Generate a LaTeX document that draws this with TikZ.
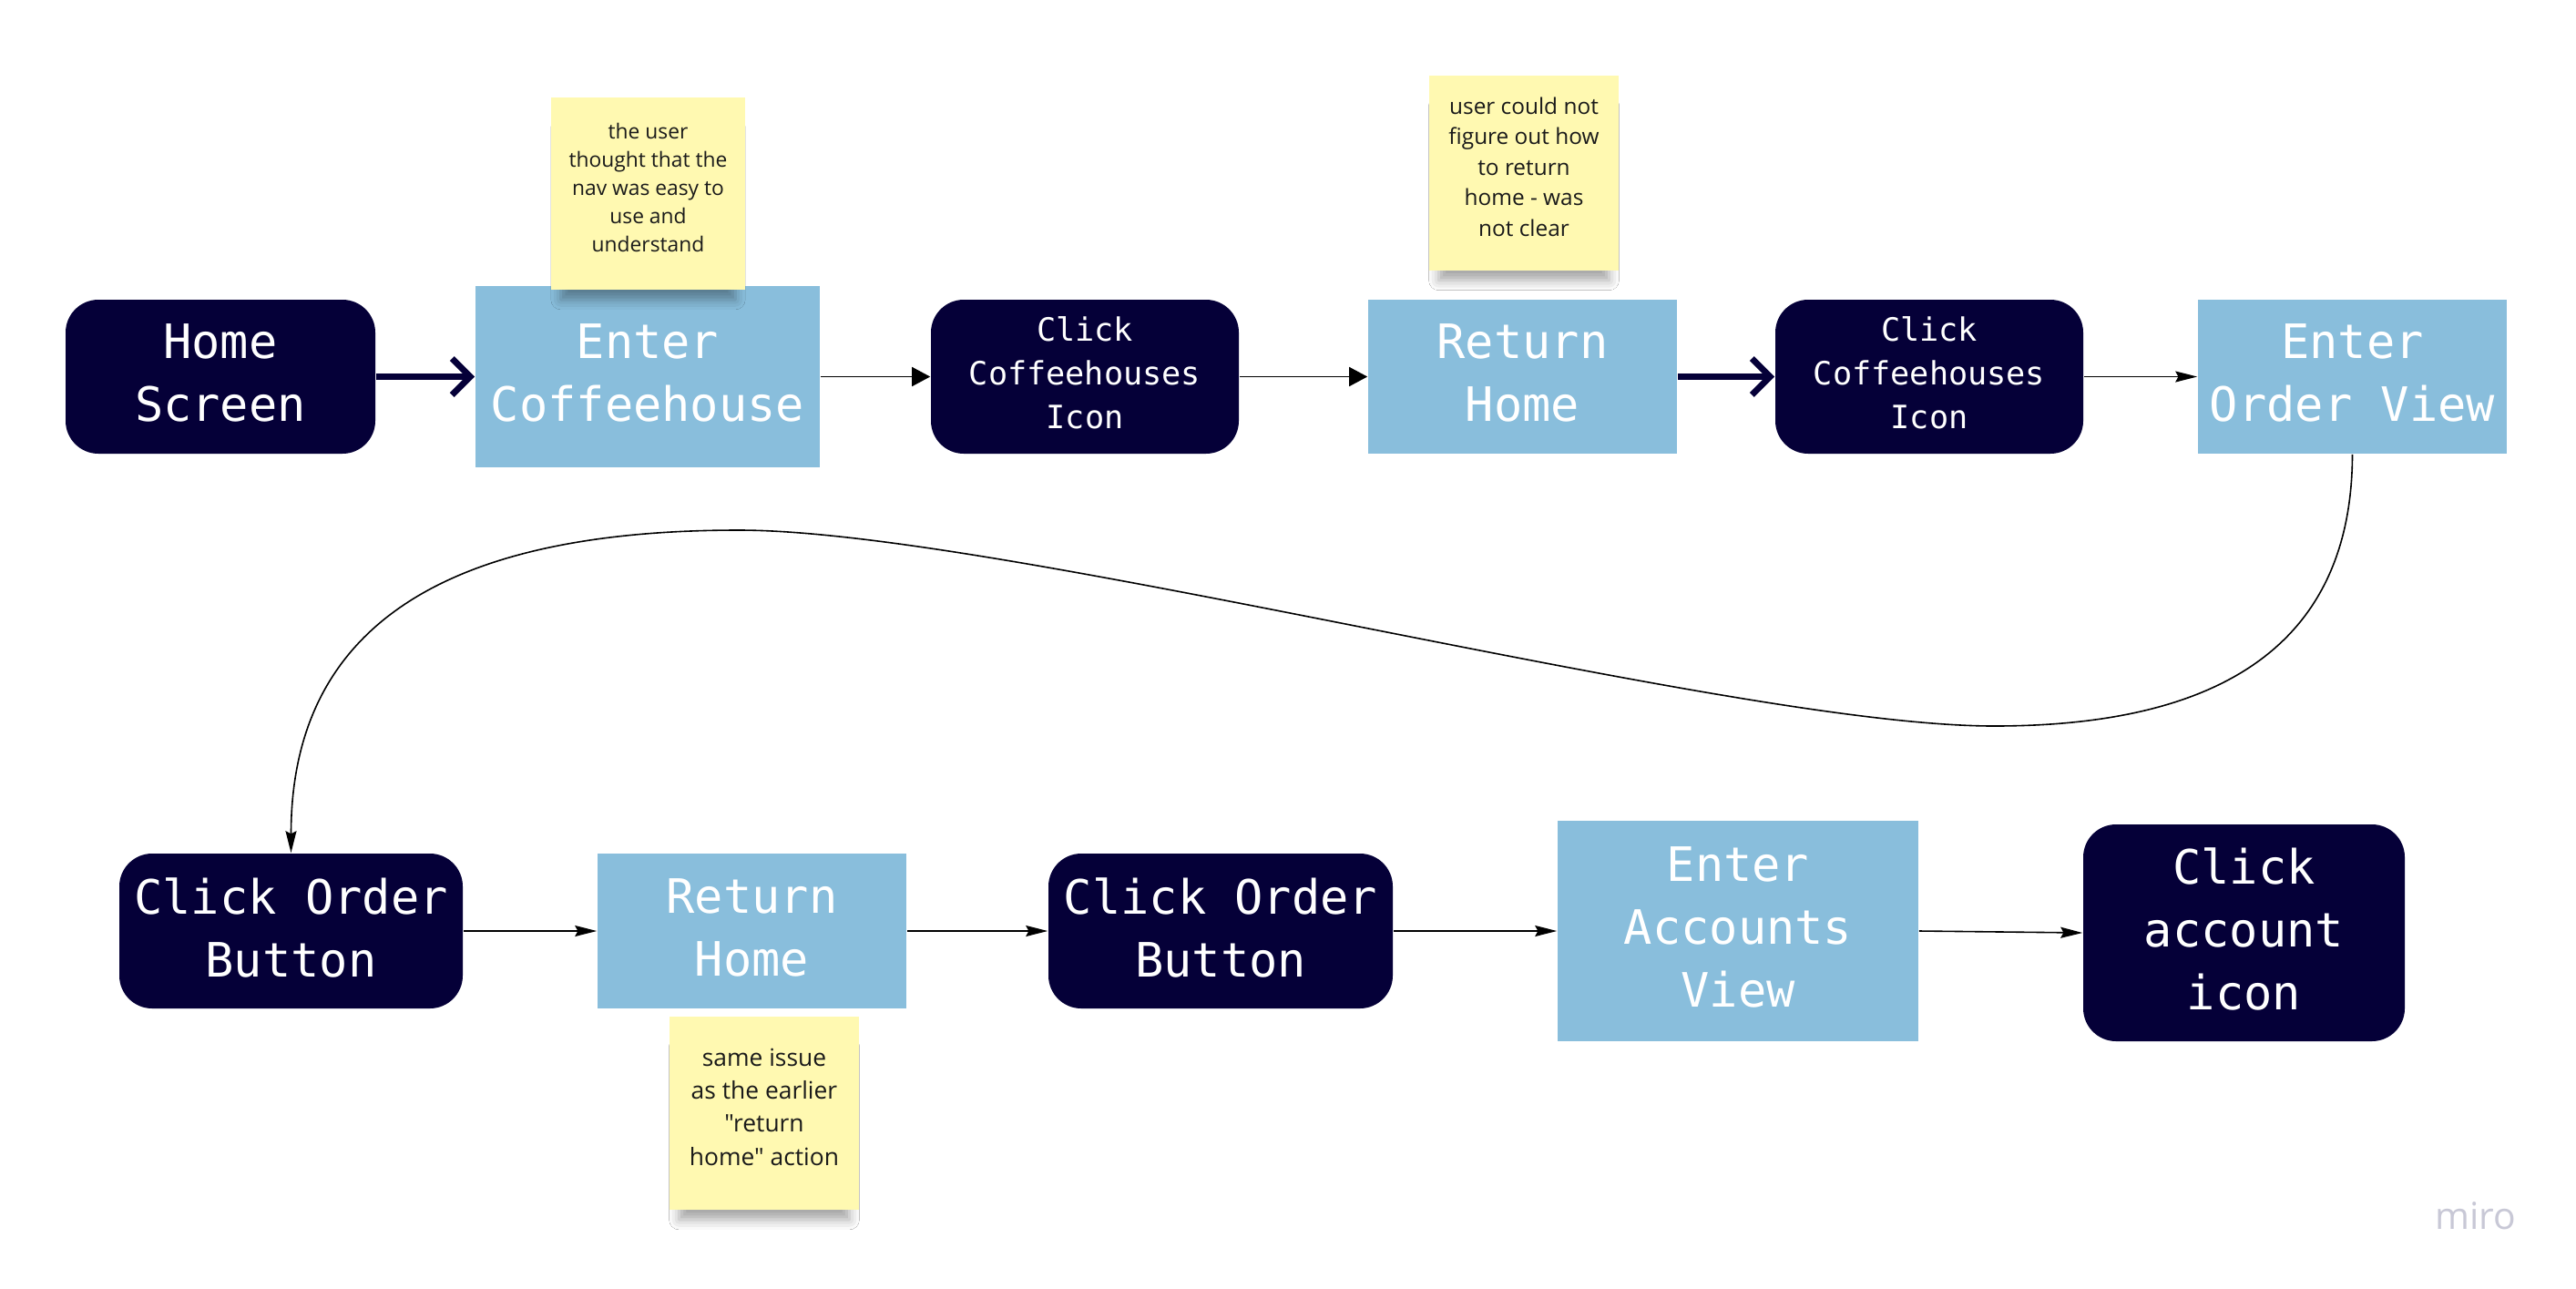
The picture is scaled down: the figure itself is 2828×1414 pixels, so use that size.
\documentclass[tikz,border=0pt]{standalone}
\usepackage{fontspec}
\newfontfamily\monofont{DejaVu Sans Mono}
\newfontfamily\notefont{Open Sans}
\usetikzlibrary{arrows.meta, shadows.blur}

\definecolor{navy}{HTML}{050038}
\definecolor{viewblue}{RGB}{137,190,220}
\definecolor{stickyyellow}{HTML}{FFF9B1}
\definecolor{notetext}{HTML}{1A1A1A}
\definecolor{logogray}{RGB}{200,200,214}

\tikzset{
	screen/.style={fill=navy, text=white, rounded corners=9pt, inner sep=0pt, align=center,
		text depth=2.2pt, font=\monofont\fontsize{13}{17.25}\selectfont},
	small screen/.style={screen, font=\monofont\fontsize{8.8}{12}\selectfont},
	view/.style={fill=viewblue, text=white, inner sep=0pt, align=center,
		text depth=2.2pt, font=\monofont\fontsize{13}{17.25}\selectfont},
	sticky/.style={fill=stickyyellow, text=notetext, inner sep=0pt, align=center, text depth=3.5pt,
		blur shadow={shadow xshift=0pt, shadow yshift=-6pt, shadow scale=0.9,
			shadow opacity=35, shadow blur radius=3pt}},
	link/.style={draw=black, line width=0.4pt, -{Stealth[length=6pt, width=3pt, inset=0.8pt]}},
	wide link/.style={draw=black, line width=0.4pt, -{Triangle[length=5pt, width=5.25pt]}},
	bold link/.style={draw=navy, line width=1.75pt, -{Straight Barb[length=5pt, width=10pt]}}
}

\begin{document}
\begin{tikzpicture}[x=0.25pt, y=-0.25pt]
	\fill[white] (0,0) rectangle (2828,1414);
	\useasboundingbox (0,0) rectangle (2828,1414);

	% first row
	\node[screen, minimum width=85pt, minimum height=42.25pt] (home) at (242,413.5) {Home\\Screen};
	\node[view, minimum width=94.5pt, minimum height=49.75pt] (coffee) at (711,413.5) {Enter\\Coffeehouse};
	\node[small screen, minimum width=84.5pt, minimum height=42.25pt] (icon1) at (1191,413.5) {Click\\Coffeehouses\\Icon};
	\node[view, minimum width=84.75pt, minimum height=42.25pt] (return1) at (1671.5,413.5) {Return\\Home};
	\node[small screen, minimum width=84.5pt, minimum height=42.25pt] (icon2) at (2118,413.5) {Click\\Coffeehouses\\Icon};
	\node[view, minimum width=84.75pt, minimum height=42.25pt] (order) at (2582.5,413.5) {Enter\\Order View};

	% second row
	\node[screen, minimum width=94.25pt, minimum height=42.5pt] (button1) at (319.5,1022) {Click Order\\Button};
	\node[view, minimum width=84.75pt, minimum height=42.5pt] (return2) at (825.5,1022) {Return\\Home};
	\node[screen, minimum width=94.5pt, minimum height=42.5pt] (button2) at (1340,1022) {Click Order\\Button};
	\node[view, minimum width=99pt, minimum height=60.5pt] (accounts) at (1908,1022) {Enter\\Accounts\\View};
	\node[screen, minimum width=88.25pt, minimum height=59.5pt] (account) at (2463.5,1024) {Click\\account\\icon};

	% sticky notes
	\node[sticky, minimum width=53.25pt, minimum height=52.75pt,
		font=\notefont\fontsize{5.7}{7.75}\selectfont] (note1) at (711.5,212.5)
		{the user\\thought that the\\nav was easy to\\use and\\understand};
	\node[sticky, minimum width=52pt, minimum height=53.5pt,
		font=\notefont\fontsize{6.1}{8.4}\selectfont] (note2) at (1673,190)
		{user could not\\figure out how\\to return\\home - was\\not clear};
	\node[sticky, minimum width=52pt, minimum height=53pt,
		font=\notefont\fontsize{6.6}{9.1}\selectfont] (note3) at (839,1222)
		{same issue\\as the earlier\\"return\\home" action};

	% connectors
	\draw[bold link] (home) -- (coffee);
	\draw[wide link] (coffee) -- (icon1);
	\draw[wide link] (icon1) -- (return1);
	\draw[bold link] (return1) -- (icon2);
	\draw[link] (icon2) -- (order);

	\coordinate (dip) at (2189,797);
	\coordinate (crest) at (811,582);
	\draw[link] (order.south)
		.. controls (2582,720) and (2420,797) .. (dip)
		.. controls (1900,797) and (1100,582) .. (crest)
		.. controls (500,582) and (319.5,680) .. (button1.north);

	\draw[link] (button1) -- (return2);
	\draw[link] (return2) -- (button2);
	\draw[link] (button2) -- (accounts);
	\draw[link] (accounts.east) -- (account.west);

	\node[text=logogray, font=\notefont\fontsize{10.2}{12}\selectfont] (logo) at (2718,1335) {miro};
\end{tikzpicture}
\end{document}
